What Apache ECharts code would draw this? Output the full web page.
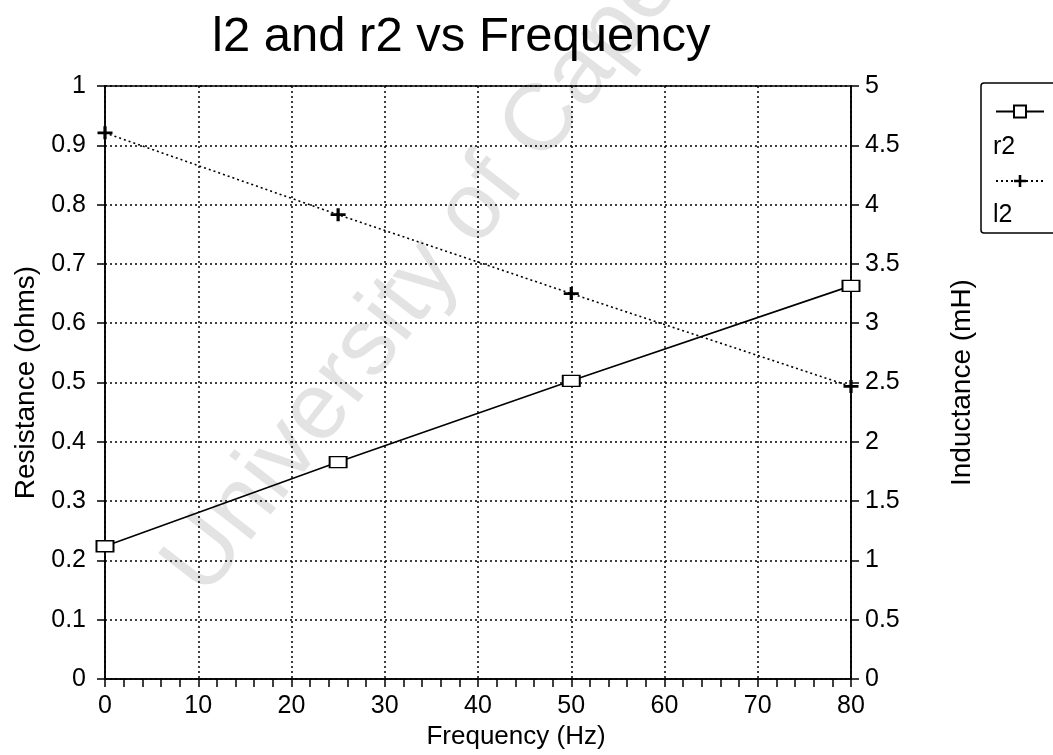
<!DOCTYPE html>
<html>
<head>
<meta charset="utf-8">
<title>l2 and r2 vs Frequency</title>
<script src="https://cdn.jsdelivr.net/npm/echarts@6/dist/echarts.min.js"></script>
<style>
  html, body { margin: 0; padding: 0; background: #fff; }
  #echart { width: 1053px; height: 755px; }
</style>
</head>
<body>
<div id="echart"></div>
<script>
// values
const freq = [0, 25, 50, 80]
const r2 = [0.224, 0.366, 0.503, 0.663]   // ohms, left axis
const l2 = [4.605, 3.915, 3.25, 2.467]    // mH, right axis
const seriesNames = ['r2', 'l2']
const watermark = 'University of Cape Town'

const font = 'Liberation Sans'
const pair = (xs, ys) => xs.map((x, i) => [x, ys[i]])

const myChart = echarts.init(document.getElementById('echart'))
const option = {
  backgroundColor: '#fff',
  animation: false,
  textStyle: { fontFamily: font, color: '#000' },
  title: {
    text: 'l2 and r2 vs Frequency',
    left: 207,
    top: 8,
    textStyle: { fontFamily: font, fontSize: 49, fontWeight: 'normal', color: '#000' }
  },
  graphic: [
    {
      type: 'text',
      x: 222,
      y: 612,
      rotation: 0.91,
      z: -10,
      silent: true,
      style: {
        text: watermark,
        fill: '#e3e3e3',
        fontFamily: font,
        fontSize: 95,
        textAlign: 'left',
        textVerticalAlign: 'bottom'
      }
    },
    {
      type: 'text',
      left: 993,
      top: 135,
      style: { text: seriesNames[0], fill: '#000', fontFamily: font, fontSize: 25 }
    },
    {
      type: 'text',
      left: 993,
      top: 203,
      style: { text: seriesNames[1], fill: '#000', fontFamily: font, fontSize: 25 }
    }
  ],
  legend: {
    orient: 'vertical',
    left: 981,
    top: 83,
    padding: [21, 40, 46, 14],
    itemWidth: 48,
    itemHeight: 15,
    itemGap: 55,
    borderColor: '#000',
    borderWidth: 1.5,
    borderRadius: 3,
    formatter: () => '',
    data: seriesNames
  },
  grid: {
    left: 105,
    right: 202,
    top: 86,
    bottom: 75,
    show: true,
    borderColor: '#000',
    borderWidth: 1.5
  },
  xAxis: {
    type: 'value',
    min: 0,
    max: 80,
    interval: 10,
    name: 'Frequency (Hz)',
    nameLocation: 'middle',
    nameGap: 44,
    nameTextStyle: { fontFamily: font, fontSize: 26, color: '#000', padding: [0, 0, 0, 76] },
    axisLine: { lineStyle: { color: '#000', width: 1.5 } },
    axisTick: { length: 8, lineStyle: { color: '#000', width: 1.5 } },
    minorTick: { show: true, splitNumber: 5, length: 8, lineStyle: { color: '#000', width: 1.5 } },
    axisLabel: { margin: 15, fontFamily: font, fontSize: 25, color: '#000' },
    splitLine: { show: true, lineStyle: { color: '#000', width: 1.5, type: [2, 3] } }
  },
  yAxis: [
    {
      type: 'value',
      position: 'left',
      min: 0,
      max: 1,
      interval: 0.1,
      name: 'Resistance (ohms)',
      nameLocation: 'middle',
      nameRotate: 90,
      nameGap: 63,
      nameTextStyle: { fontFamily: font, fontSize: 28, color: '#000' },
      axisLine: { show: true, lineStyle: { color: '#000', width: 1.5 } },
      axisTick: { show: true, length: 8, lineStyle: { color: '#000', width: 1.5 } },
      axisLabel: { margin: 19, fontFamily: font, fontSize: 25, color: '#000' },
      splitLine: { show: true, lineStyle: { color: '#000', width: 1.5, type: [2, 3] } }
    },
    {
      type: 'value',
      position: 'right',
      min: 0,
      max: 5,
      interval: 0.5,
      name: 'Inductance (mH)',
      nameLocation: 'middle',
      nameRotate: 90,
      nameGap: 97,
      nameTextStyle: { fontFamily: font, fontSize: 28, color: '#000' },
      axisLine: { show: true, lineStyle: { color: '#000', width: 1.5 } },
      axisTick: { show: true, length: 8, lineStyle: { color: '#000', width: 1.5 } },
      axisLabel: { margin: 14, fontFamily: font, fontSize: 25, color: '#000' },
      splitLine: { show: false }
    }
  ],
  series: [
    {
      name: seriesNames[0],
      type: 'line',
      yAxisIndex: 0,
      data: pair(freq, r2),
      symbol: 'rect',
      symbolSize: [17, 11],
      showAllSymbol: true,
      lineStyle: { color: '#000', width: 1.6, type: 'solid' },
      itemStyle: { color: '#fff', borderColor: '#000', borderWidth: 1.6 },
      z: 5
    },
    {
      name: seriesNames[1],
      type: 'line',
      yAxisIndex: 1,
      data: pair(freq, l2),
      symbol: 'path://M0,5.5H5.5V0H8.5V5.5H14V8.5H8.5V14H5.5V8.5H0Z',
      symbolSize: [15, 13],
      showAllSymbol: true,
      lineStyle: { color: '#000', width: 1.6, type: [2, 3] },
      itemStyle: { color: '#000' },
      z: 5
    }
  ]
}
myChart.setOption(option)
</script>
</body>
</html>
